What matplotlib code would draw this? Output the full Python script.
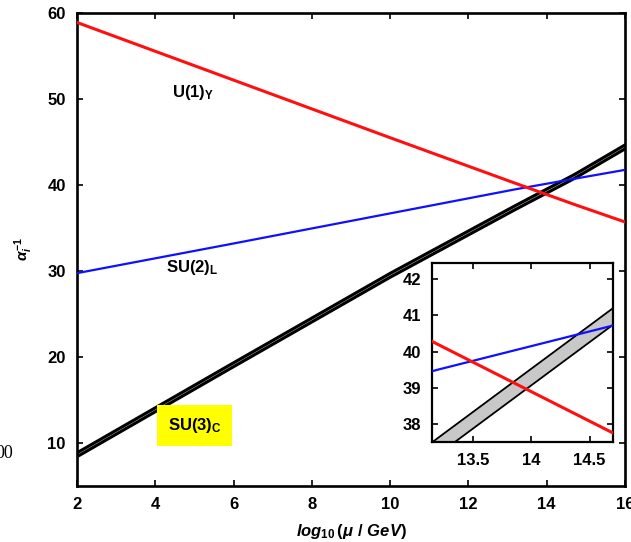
import matplotlib
matplotlib.use("Agg")
import matplotlib.pyplot as plt
import numpy as np

# inverse gauge couplings vs log10(mu/GeV)
mu_log = [2, 6, 10, 13.2, 14.7, 16]
inv_alpha_1 = [58.9, 52.2, 45.5, 40.2, 37.75, 35.7]
inv_alpha_2 = [29.75, 33.2, 36.7, 39.5, 40.72, 41.76]
inv_alpha_3 = [8.63, 19.1, 29.5, 37.38, 40.97, 44.43]
inv_alpha_3_err = 0.23

main_xticks = [2, 4, 6, 8, 10, 12, 14, 16]
main_yticks = [10, 20, 30, 40, 50, 60]
inset_xticks = [13.5, 14, 14.5]
inset_yticks = [38, 39, 40, 41, 42]

plt.rcParams['font.family'] = ['Liberation Sans', 'DejaVu Sans']
plt.rcParams['font.weight'] = 'bold'
plt.rcParams['font.size'] = 12
plt.rcParams['mathtext.fontset'] = 'custom'
plt.rcParams['mathtext.rm'] = 'Liberation Sans:bold'
plt.rcParams['mathtext.bf'] = 'Liberation Sans:bold'
plt.rcParams['mathtext.it'] = 'Liberation Sans:bold:italic'

x = np.array(mu_log)
a3 = np.array(inv_alpha_3)


def draw_curves(ax, edge_lw):
    ax.fill_between(x, a3 - inv_alpha_3_err, a3 + inv_alpha_3_err,
                    color='#c8c8c8', lw=0, zorder=2)
    ax.plot(x, a3 - inv_alpha_3_err, color='black', lw=edge_lw, zorder=3)
    ax.plot(x, a3 + inv_alpha_3_err, color='black', lw=edge_lw, zorder=3)
    ax.plot(x, inv_alpha_2, color='#1010ff', lw=1.6, zorder=4)
    ax.plot(x, inv_alpha_1, color='#ff1010', lw=2.2, zorder=4)


def style_axes(ax, lw, length, pad):
    for s in ax.spines.values():
        s.set_linewidth(lw)
    ax.tick_params(direction='in', top=True, right=True, length=length,
                   width=1.2, pad=pad, labelsize=12)


fig = plt.figure(figsize=(6.31, 5.42), dpi=100)
ax = fig.add_axes([0.122, 0.1033, 0.8685, 0.8727])
draw_curves(ax, 2.2)
ax.set_xlim(2, 16)
ax.set_ylim(5, 60)
ax.set_xticks(main_xticks)
ax.set_yticks(main_yticks)
style_axes(ax, 1.9, 4, 8)

ax.text(4.96, 50.8, r'U(1)$_\mathrm{Y}$', ha='center', va='center', fontsize=12)
ax.text(4.94, 30.4, r'SU(2)$_\mathrm{L}$', ha='center', va='center', fontsize=12)
ax.text(5.0, 12.0, r'SU(3)$_\mathrm{C}$', ha='center', va='center', fontsize=12,
        bbox=dict(boxstyle='square,pad=0.65', fc='#ffff00', ec='none'))

ax.set_xlabel(r'$\mathit{log}_{\mathit{10}}\,\mathit{(\mu\ /\ GeV)}$', fontsize=12,
              va='center')
ax.xaxis.set_label_coords(0.5, -0.097)
ax.set_ylabel(r'$\alpha_i^{-1}$', fontsize=11, va='center')
ax.yaxis.set_label_coords(-0.098, 0.5)

# zoomed view near unification
ins = fig.add_axes([0.6846, 0.1845, 0.2868, 0.3303])
ins.set_facecolor('white')
draw_curves(ins, 1.3)
ins.set_xlim(13.15, 14.7)
ins.set_ylim(37.5, 42.45)
ins.set_xticks(inset_xticks)
ins.set_xticklabels(['13.5', '14', '14.5'])
ins.set_yticks(inset_yticks)
style_axes(ins, 1.6, 4, 8)

fig.text(13 / 631, 1 - 454 / 542, '00', ha='right', va='center',
         family='Liberation Serif', fontweight='normal', fontsize=13)

plt.savefig('out.png', dpi=100)
